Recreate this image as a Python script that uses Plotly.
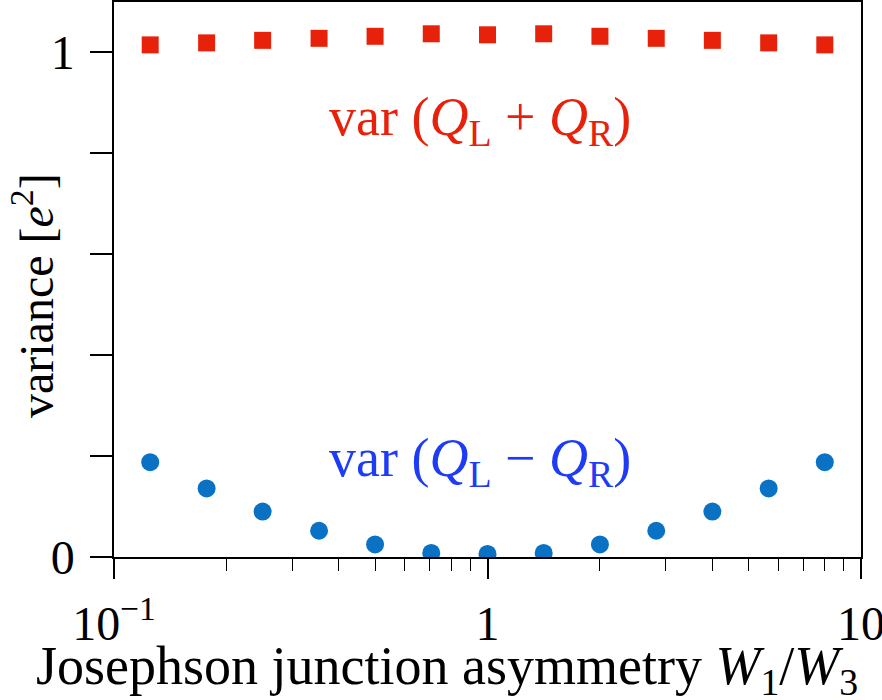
import plotly.graph_objects as go

ratio = [0.125, 0.177, 0.25, 0.354, 0.5, 0.707, 1.0, 1.414, 2.0, 2.83, 4.0, 5.66, 8.0]
var_sum = [1.015, 1.019, 1.024, 1.028, 1.032, 1.037, 1.035, 1.037, 1.032, 1.028, 1.024, 1.019, 1.015]
var_diff = [0.188, 0.136, 0.090, 0.052, 0.025, 0.008, 0.006, 0.008, 0.025, 0.052, 0.090, 0.136, 0.188]

y_ticks = [0, 0.2, 0.4, 0.6, 0.8, 1.0]
y_ticktext = ["0", "", "", "", "", "1"]
x_ticks = [0.1, 1, 10]
x_ticktext = ["10<sup>\u22121</sup>", "1", "10"]
x_minor = [0.2, 0.3, 0.4, 0.5, 0.6, 0.7, 0.8, 0.9, 2, 3, 4, 5, 6, 7, 8, 9]

FONT = "Liberation Serif"
RED = "#E8220A"
BLUE = "#0A72C4"
LABEL_BLUE = "#1E3CF5"

fig = go.Figure()
fig.add_trace(go.Scatter(x=ratio, y=var_sum, mode="markers",
                         marker=dict(symbol="square", size=17, color=RED)))
fig.add_trace(go.Scatter(x=ratio, y=var_diff, mode="markers",
                         marker=dict(symbol="circle", size=18, color=BLUE)))

fig.add_annotation(x=0.49, y=0.865, xref="paper", yref="y",
                   xanchor="center", yanchor="middle",
                   text="var (<i>Q</i><sub>L</sub> + <i>Q</i><sub>R</sub>)",
                   showarrow=False, font=dict(family=FONT, size=54, color=RED))
fig.add_annotation(x=0.49, y=0.19, xref="paper", yref="y",
                   xanchor="center", yanchor="middle",
                   text="var (<i>Q</i><sub>L</sub> \u2212 <i>Q</i><sub>R</sub>)",
                   showarrow=False, font=dict(family=FONT, size=54, color=LABEL_BLUE))

pw = 882 - 114 - 21
ph = 700 - 2 - 143

# axis titles placed as annotations (pixel centre -> domain fraction)
fig.add_annotation(x=(447 - 114) / pw, y=(557 - 669) / ph, xref="x domain", yref="y domain",
                   xanchor="center", yanchor="middle",
                   text="Josephson junction asymmetry <i>W</i><sub>1</sub>/<i>W</i><sub>3</sub>",
                   showarrow=False, font=dict(family=FONT, size=54, color="black"))
fig.add_annotation(x=(33 - 114) / pw, y=(557 - 296) / ph, xref="x domain", yref="y domain",
                   xanchor="center", yanchor="middle",
                   text="variance [<i>e</i><sup>2</sup>]", textangle=-90,
                   showarrow=False, font=dict(family=FONT, size=48, color="black"))

fig.update_layout(
    width=882, height=700,
    margin=dict(l=114, r=21, t=2, b=143),
    plot_bgcolor="white", paper_bgcolor="white",
    showlegend=False,
    font=dict(family=FONT, color="black"),
)

fig.update_xaxes(
    type="log", range=[-1, 1], automargin=False,
    tickmode="array", tickvals=x_ticks, ticktext=x_ticktext,
    ticks="outside", ticklen=20, tickwidth=1.5, tickcolor="black",
    tickfont=dict(size=48), ticklabeloverflow="allow", ticklabelstandoff=4,
    showline=True, linecolor="black", linewidth=1.5, mirror=True,
    showgrid=False, zeroline=False,
    minor=dict(tickmode="array", tickvals=x_minor, ticks="outside", ticklen=12,
               tickwidth=1.2, tickcolor="black", showgrid=False),
)
fig.update_yaxes(
    range=[0, 1.1], automargin=False,
    tickmode="array", tickvals=y_ticks, ticktext=y_ticktext,
    ticks="outside", ticklen=22, tickwidth=1.5, tickcolor="black",
    tickfont=dict(size=48), ticklabelstandoff=6,
    showline=True, linecolor="black", linewidth=1.5, mirror=True,
    showgrid=False, zeroline=False,
)

fig.write_html("out.html")
